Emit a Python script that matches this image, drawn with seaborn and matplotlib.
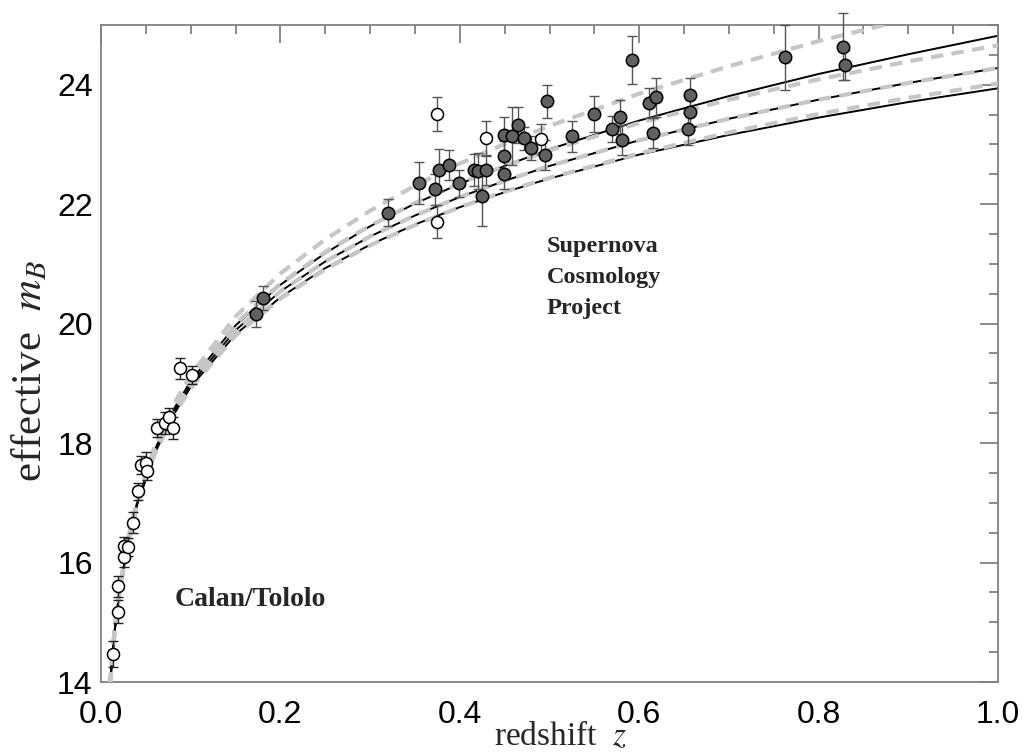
import matplotlib
matplotlib.use("Agg")
import matplotlib.pyplot as plt
from matplotlib.ticker import MultipleLocator, FormatStrFormatter
import pandas as pd
import seaborn as sns

# model curves m_B(z)
Z_GRID = [0.01, 0.015, 0.02, 0.03, 0.04, 0.06, 0.08, 0.1, 0.15, 0.2, 0.25, 0.3,
          0.35, 0.4, 0.45, 0.5, 0.6, 0.7, 0.8, 0.9, 1.0]
M_EMPTY = [13.95, 14.83, 15.46, 16.35, 16.99, 17.89, 18.54, 19.04, 19.97, 20.65, 21.18, 21.63,
           22.01, 22.34, 22.64, 22.92, 23.40, 23.81, 24.18, 24.51, 24.82]
M_EDS = [13.94, 14.83, 15.45, 16.34, 16.97, 17.86, 18.49, 18.99, 19.89, 20.54, 21.04, 21.46,
         21.81, 22.12, 22.39, 22.64, 23.07, 23.43, 23.75, 24.03, 24.28]
M_OM2 = [13.94, 14.82, 15.44, 16.32, 16.95, 17.83, 18.45, 18.94, 19.82, 20.44, 20.93, 21.32,
         21.66, 21.95, 22.20, 22.43, 22.83, 23.16, 23.45, 23.71, 23.94]
M_DS = [13.96, 14.85, 15.48, 16.39, 17.03, 17.95, 18.62, 19.14, 20.12, 20.84, 21.41, 21.89,
        22.31, 22.68, 23.01, 23.31, 23.85, 24.31, 24.73, 25.10, 25.44]
M_FLAT05 = [13.95, 14.84, 15.47, 16.36, 17.00, 17.90, 18.55, 19.06, 20.00, 20.67, 21.20, 21.64,
            22.02, 22.35, 22.64, 22.90, 23.36, 23.75, 24.09, 24.39, 24.66]
M_FLAT15 = [13.93, 14.81, 15.44, 16.32, 16.94, 17.82, 18.44, 18.92, 19.80, 20.42, 20.91, 21.31,
            21.65, 21.95, 22.21, 22.44, 22.85, 23.20, 23.51, 23.78, 24.02]

# Supernova Cosmology Project (filled)
SCP_Z = [0.1728, 0.1803, 0.3203, 0.3545, 0.3724, 0.3772, 0.388, 0.3995, 0.4158, 0.42,
         0.4292, 0.4251, 0.4496, 0.4496, 0.4496, 0.4585, 0.4645, 0.4716, 0.4797, 0.4946,
         0.4969, 0.5255, 0.5496, 0.5693, 0.5786, 0.5805, 0.5916, 0.6113, 0.6184, 0.615,
         0.6566, 0.6566, 0.6548, 0.7625, 0.8275, 0.8294]
SCP_M = [20.16, 20.43, 21.86, 22.36, 22.25, 22.57, 22.65, 22.35, 22.57, 22.55,
         22.57, 22.13, 23.16, 22.81, 22.50, 23.14, 23.33, 23.10, 22.94, 22.82,
         23.72, 23.14, 23.51, 23.26, 23.46, 23.08, 24.41, 23.69, 23.79, 23.19,
         23.83, 23.55, 23.26, 24.46, 24.64, 24.33]
SCP_ERR = [0.22, 0.2, 0.23, 0.35, 0.26, 0.35, 0.25, 0.23, 0.27, 0.3,
           0.25, 0.5, 0.3, 0.25, 0.25, 0.48, 0.3, 0.2, 0.2, 0.25,
           0.28, 0.26, 0.3, 0.22, 0.28, 0.25, 0.4, 0.25, 0.33, 0.25,
           0.28, 0.3, 0.27, 0.54, 0.56, 0.25]

# excluded SCP supernovae (open)
SCP_OPEN_Z = [0.3742, 0.3742, 0.4292, 0.4902]
SCP_OPEN_M = [23.51, 21.71, 23.10, 23.09]
SCP_OPEN_ERR = [0.28, 0.28, 0.3, 0.25]

# Calan/Tololo (open)
CT_Z = [0.0137, 0.0186, 0.0193, 0.0256, 0.026, 0.0305, 0.036, 0.0416, 0.0442, 0.0498,
        0.0517, 0.0621, 0.0714, 0.0761, 0.0806, 0.0881, 0.1011]
CT_M = [14.47, 15.60, 15.18, 16.09, 16.28, 16.26, 16.67, 17.19, 17.64, 17.67,
        17.54, 18.25, 18.34, 18.43, 18.25, 19.25, 19.14]
CT_ERR = [0.22, 0.17, 0.2, 0.17, 0.15, 0.15, 0.17, 0.15, 0.15, 0.18,
          0.15, 0.15, 0.18, 0.15, 0.18, 0.18, 0.15]

sns.set_theme(style="white")
plt.rcParams["font.family"] = ["Liberation Sans", "DejaVu Sans"]
plt.rcParams["mathtext.fontset"] = "stix"

fig = plt.figure(figsize=(10.24, 7.53), dpi=100)
ax = fig.add_axes([101 / 1024, 1 - 682 / 753, 897 / 1024, 657 / 753])

curves = pd.DataFrame({"z": Z_GRID, "empty": M_EMPTY, "eds": M_EDS, "om2": M_OM2,
                       "ds": M_DS, "flat05": M_FLAT05, "flat15": M_FLAT15})

# Lambda = 0 models: black solid
for col in ["empty", "eds", "om2"]:
    sns.lineplot(data=curves, x="z", y=col, color="black", lw=1.4, ax=ax, zorder=2)
# flat models: gray dashed on top
for col in ["ds", "flat05", "eds", "flat15"]:
    sns.lineplot(data=curves, x="z", y=col, color="#c6c6c6", lw=3.0,
                 linestyle=(0, (3.0, 2.0)), ax=ax, zorder=3)


def bars(x, y, err, color):
    eb = ax.errorbar(x, y, yerr=err, fmt="none", ecolor=color, elinewidth=1.0,
                     capsize=3.5, capthick=1.0, zorder=4)
    for a in list(eb[1]) + list(eb[2]):
        a.set_clip_on(False)


bars(CT_Z, CT_M, CT_ERR, "#222222")
bars(SCP_Z, SCP_M, SCP_ERR, "#555555")
bars(SCP_OPEN_Z, SCP_OPEN_M, SCP_OPEN_ERR, "#555555")

sns.scatterplot(x=CT_Z, y=CT_M, s=75, color="white", edgecolor="black", linewidth=1.1,
                ax=ax, zorder=5, clip_on=False)
sns.scatterplot(x=SCP_OPEN_Z, y=SCP_OPEN_M, s=75, color="white", edgecolor="black",
                linewidth=1.1, ax=ax, zorder=5, clip_on=False)
sns.scatterplot(x=SCP_Z, y=SCP_M, s=80, color="#606060", edgecolor="black", linewidth=1.1,
                ax=ax, zorder=5, clip_on=False)

ax.set_xlim(0, 1)
ax.set_ylim(14, 25)
ax.xaxis.set_major_locator(MultipleLocator(0.2))
ax.xaxis.set_minor_locator(MultipleLocator(0.05))
ax.yaxis.set_major_locator(MultipleLocator(2))
ax.yaxis.set_minor_locator(MultipleLocator(0.5))
ax.xaxis.set_major_formatter(FormatStrFormatter("%.1f"))
ax.yaxis.set_major_formatter(FormatStrFormatter("%d"))
ax.tick_params(which="both", direction="in", top=True, right=True, color="#777777",
               width=1.2, labelsize=23, labelcolor="black")
ax.tick_params(which="major", length=13)
ax.tick_params(which="minor", length=6.5)
ax.tick_params(axis="x", pad=13)
ax.tick_params(axis="y", pad=6)
for s in ax.spines.values():
    s.set_color("#808080")
    s.set_linewidth(1.3)

ax.set_xlabel("redshift  $z$", fontfamily="Liberation Serif", fontsize=24)
ax.xaxis.set_label_coords(0.513, -0.058)
ax.set_ylabel("effective  $m_B$", fontfamily="Liberation Serif", fontsize=31)
ax.yaxis.set_label_coords(-0.056, 0.474)

ax.text(0.497, 21.47, "Supernova\nCosmology\nProject", fontfamily="Liberation Serif",
        fontweight="bold", fontsize=17.5, va="top", ha="left", linespacing=1.62)
ax.text(0.0825, 15.38, "Calan/Tololo", fontfamily="Liberation Serif",
        fontweight="bold", fontsize=20, va="center", ha="left")

fig.savefig("out.png", dpi=100)
